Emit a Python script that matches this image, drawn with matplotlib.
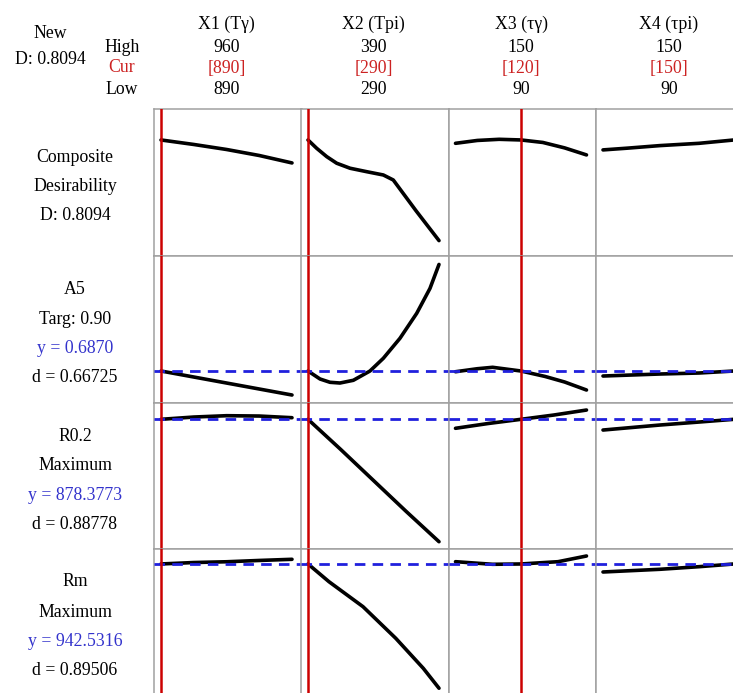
import matplotlib
matplotlib.use("Agg")
import matplotlib.pyplot as plt

plt.rcParams['font.family'] = ['Liberation Serif', 'DejaVu Serif']

# factors (columns)
factor_names = ["X1 (Tγ)", "X2 (Tpi)", "X3 (τγ)", "X4 (τpi)"]
factor_high = [960, 390, 150, 150]
factor_low = [890, 290, 90, 90]
factor_cur = [890, 290, 120, 150]

# responses (rows)
row_labels = [["Composite", "Desirability", "D: 0.8094"],
              ["A5", "Targ: 0.90", "y = 0.6870", "d = 0.66725"],
              ["R0.2", "Maximum", "y = 878.3773", "d = 0.88778"],
              ["Rm", "Maximum", "y = 942.5316", "d = 0.89506"]]
resp_now = [None, 0.6870, 878.3773, 942.5316]

# composite desirability
comp_x = [[890, 907.5, 925, 942.5, 960],
          [290, 296.6, 304.3, 311.9, 322.1, 334.8, 347.5, 355.1, 372.4, 390],
          [90, 100, 110, 120, 130, 140, 150],
          [90, 101, 116, 134, 150]]
comp_y = [[0.8094, 0.778, 0.743, 0.701, 0.649],
          [0.8094, 0.7515, 0.693, 0.647, 0.612, 0.588, 0.565, 0.530, 0.316, 0.107],
          [0.786, 0.806, 0.814, 0.8094, 0.792, 0.754, 0.705],
          [0.740, 0.752, 0.770, 0.786, 0.8094]]

# A5
a5_x = [[890, 907.5, 925, 942.5, 960],
        [290, 299.2, 306.8, 314.4, 324.6, 337.3, 347.5, 360.2, 373, 383.1, 390],
        [90, 100, 107, 120, 131, 140, 150],
        [90, 116, 134, 150]]
a5_y = [[0.687, 0.666, 0.645, 0.624, 0.603],
        [0.687, 0.659, 0.6475, 0.645, 0.6545, 0.687, 0.7315, 0.8015, 0.889, 0.976, 1.06],
        [0.6845, 0.695, 0.700, 0.687, 0.668, 0.6485, 0.6205],
        [0.6695, 0.6765, 0.680, 0.687]]

# R0.2
r02_x = [[890, 907.5, 925, 942.5, 960],
         [290, 315, 340, 365, 390],
         [90, 105, 120, 135, 150],
         [90, 116, 134, 150]]
r02_y = [[878.38, 881.8, 883.8, 883.3, 880.8],
         [878.38, 833.1, 786.6, 740.1, 694.8],
         [864.9, 872.1, 878.38, 884.8, 892.3],
         [862.3, 869.8, 874.3, 878.38]]

# Rm
rm_x = [[890, 907.5, 925, 942.5, 960],
        [290, 306, 332, 357, 378, 390],
        [90, 107, 120, 137, 150],
        [90, 116, 134, 150]]
rm_y = [[942.53, 944.4, 945.4, 947.1, 948.6],
        [942.53, 919.5, 887.0, 845.9, 806.9, 781.0],
        [945.5, 942.1, 942.53, 945.5, 952.9],
        [932.1, 935.6, 939.0, 942.53]]

curves_x = [comp_x, a5_x, r02_x, rm_x]
curves_y = [comp_y, a5_y, r02_y, rm_y]
ylims = [(0.003, 1.029), (0.5761, 1.0913), (683.4, 903.3), (770.5, 961.6)]

W, H = 733, 693
fig = plt.figure(figsize=(W / 100, H / 100), dpi=100)

def box(left, top, w, h):
    return [left / W, 1 - (top + h) / H, w / W, h / H]

col_left = [154, 301, 448.5, 596]
col_w = 147.5
row_top = [108.5, 255.5, 402.7, 549.3]
row_h = [147, 147.2, 146.6, 147]

red = '#cc0000'
blue = '#2020dd'
grey = '#a0a0a0'

for r in range(4):
    for c in range(4):
        ax = fig.add_axes(box(col_left[c], row_top[r], col_w, row_h[r]))
        lo, hi = factor_low[c], factor_high[c]
        span = hi - lo
        ax.set_xlim(lo - 7 / 131 * span, hi + 9.5 / 131 * span)
        ax.set_ylim(*ylims[r])
        ax.plot(curves_x[r][c], curves_y[r][c], color='black', lw=2.6,
                solid_capstyle='round', solid_joinstyle='round', zorder=2)
        if resp_now[r] is not None:
            ax.axhline(resp_now[r], color=blue, lw=2.0, dashes=(3.8, 2.6), zorder=3)
        ax.axvline(factor_cur[c], color=red, lw=1.8, zorder=4)
        ax.set_xticks([])
        ax.set_yticks([])
        for s in ax.spines.values():
            s.set_color(grey)
            s.set_linewidth(1.1)

fs = 12.8

def txt(x, y, s, color='black', ha='center'):
    fig.text(x / W, 1 - y / H, s, ha=ha, va='center', fontsize=fs, color=color)

# header block
txt(50, 33, "New")
txt(50, 59, "D: 0.8094")
txt(122, 47, "High")
txt(122, 68, "Cur", color='#cc2222')
txt(122, 89, "Low")
for c in range(4):
    cx = col_left[c] + col_w / 2 - 1
    txt(cx, 24.5, factor_names[c])
    txt(cx, 47, str(factor_high[c]))
    txt(cx, 68, "[%d]" % factor_cur[c], color='#cc2222')
    txt(cx, 89, str(factor_low[c]))

# row labels
label_y = [[157.5, 187, 216],
           [290, 319.3, 348.3, 377.3],
           [436.7, 466, 495, 524.3],
           [581.7, 612.7, 641.7, 670.7]]
for r in range(4):
    for s, y in zip(row_labels[r], label_y[r]):
        col = '#3333cc' if s.startswith('y =') else 'black'
        txt(75, y, s, color=col)

fig.savefig('out.png', dpi=100)
